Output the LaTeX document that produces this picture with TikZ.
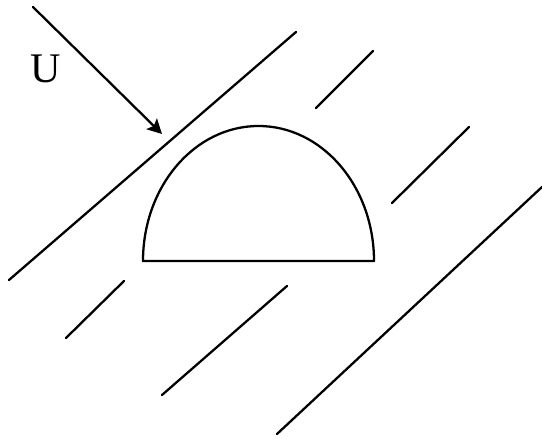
\documentclass[tikz,border=0pt]{standalone}
\usepackage{fontspec}
\setmainfont{Liberation Serif}
\usetikzlibrary{arrows.meta}
\tikzstyle{every path}=[line width=1.3pt,line cap=round,line join=round]
\newcommand{\streamline}[2]{\draw #1 -- #2;}

\begin{document}
\begin{tikzpicture}[x=0.02cm,y=-0.02cm]
		\tikzstyle{arrow} = [-{Stealth[length=2.9mm, width=3mm, inset=0.6mm]}]
		\useasboundingbox (0,0) rectangle (542,439);
		
		% flow lines
		\streamline{(9,280)}{(296,32)}
		\streamline{(316,108)}{(373,51)}
		\streamline{(392,203)}{(469,127)}
		\streamline{(277,434)}{(542,187)}
		\streamline{(66,338)}{(124,281)}
		\streamline{(162,395)}{(287,286)}
		
		% body
		\draw (143,261) arc[start angle=180, end angle=360, x radius=115.5, y radius=135] -- cycle;
		
		% incoming flow
		\coordinate (Ustart) at (33,7);
		\coordinate (Uend) at (162,134);
		\draw[arrow] (Ustart) -- (Uend);
		\node (Ulabel) at (46,69) {\fontsize{24}{28}\selectfont U};
		
	\end{tikzpicture}
\end{document}
